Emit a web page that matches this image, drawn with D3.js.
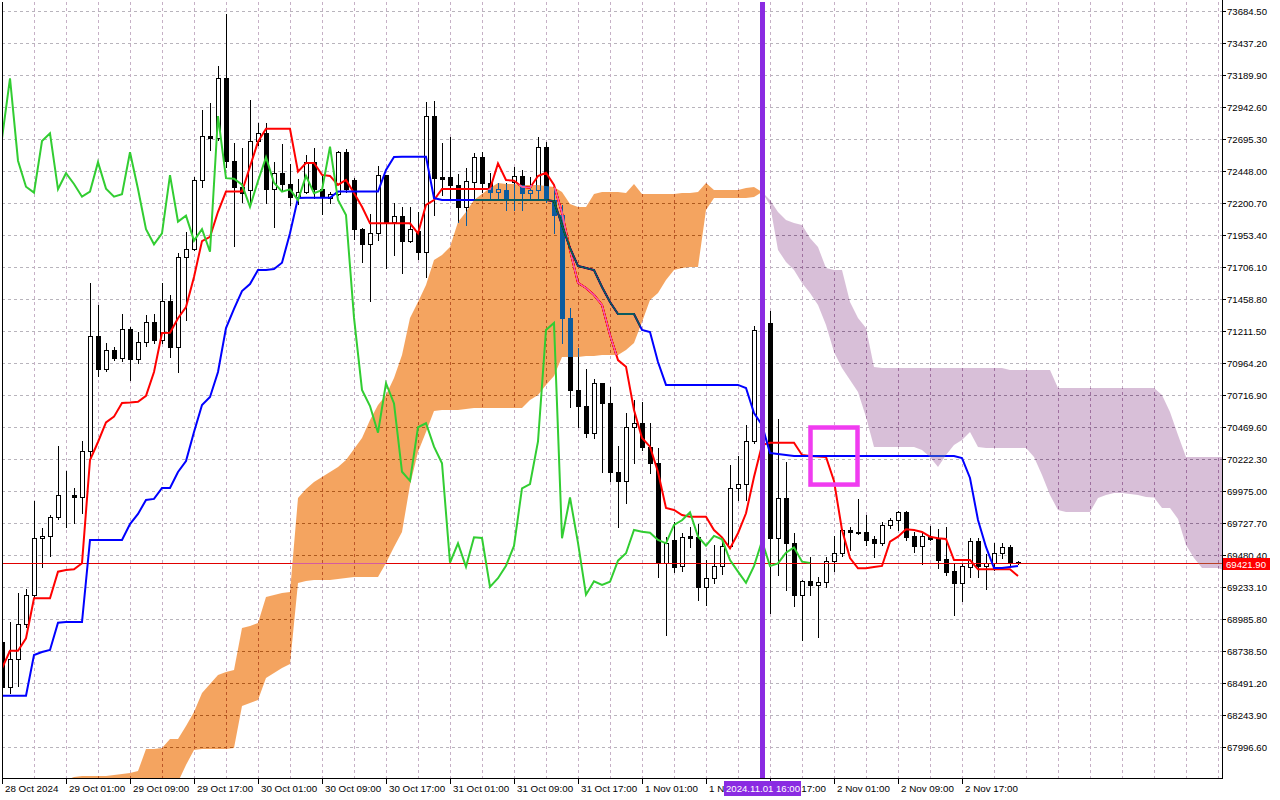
<!DOCTYPE html>
<html><head><meta charset="utf-8">
<script src="https://cdn.jsdelivr.net/npm/d3@7/dist/d3.min.js"></script>
<style>html,body{margin:0;padding:0;background:#fff;overflow:hidden}svg{display:block}</style>
</head><body>
<svg id="chart" width="1280" height="800"></svg>
<script>
// ---------- DATA (BTCUSD H1, 28 Oct 2024 17:00 -> 3 Nov 2024 00:00) ----------
const open = [
68813,68460,68677,68950,69174,69612,69630,69774,69944,69946,
69933,70284,71175,70923,71065,71008,71227,70998,71126,71281,
71144,71446,71093,71786,71848,72381,72721,72703,73167,72530,
72329,72303,72682,72742,72309,72433,72350,72252,72291,72518,
72314,72240,72271,72595,72381,72000,71884,71969,72418,72059,
72105,71912,71987,71826,72875,72403,72403,72345,72174,72367,
72557,72360,72288,72303,72367,72413,72278,72303,72638,72226,
72110,71317,70758,70634,70428,70810,70654,70126,70056,70470,
70501,70320,70192,69423,69599,69398,69630,69622,69236,69303,
69400,69553,69998,70031,70361,71222,71278,69612,69927,69577,
69176,69279,69251,69276,69439,69496,69676,69663,69658,69604,
69573,69715,69751,69813,69630,69555,69620,69604,69452,69361,
69268,69392,69591,69397,69418,69501,69542,69431];
const high = [
68903,68967,69187,69218,69902,69689,69792,70325,70134,69998,
70361,71585,71415,71121,71093,71345,71247,71209,71338,71345,
71582,71492,71813,71981,72406,72922,72974,73262,73664,72664,
72626,72999,72824,72819,72518,72659,72504,72387,72574,72626,
72412,72291,72605,72618,72394,72008,72116,72489,72420,72205,
72170,72175,72136,72986,72994,72664,72711,72426,72471,72588,
72600,72433,72355,72355,72484,72458,72402,72715,72677,72329,
72188,71389,71080,70918,70841,70815,70784,70325,70578,70681,
70667,70501,70307,69624,69740,69651,69701,69722,69444,69559,
69618,70178,70248,70487,71253,71338,71371,70534,70200,69651,
69290,69470,69315,69465,69630,69680,69701,69917,69792,69630,
69735,69769,69825,69825,69664,69651,69707,69683,69698,69418,
69420,69612,69612,69490,69573,69573,69560,69436];
const low = [
68424,68419,68470,68924,69158,69388,69475,69761,69701,69730,
69810,70242,70866,70907,70990,70982,70835,70964,71101,71118,
71118,71015,70899,71299,71840,72329,72613,72690,72484,71873,
72213,72213,72651,72205,72020,72303,72188,72193,72278,72240,
72116,72205,72265,72291,71923,71750,71443,71917,71704,71801,
71660,71904,71767,71634,72110,72265,72226,72059,72033,72226,
72291,72226,72226,72149,72149,72149,72226,72226,72213,71969,
71118,70629,70474,70397,70385,70126,70056,69701,69882,70192,
70294,70115,69315,68865,69354,69361,69547,69135,69096,69267,
69336,69533,69908,69908,70348,71101,69032,69328,69213,69089,
68826,69174,68851,69238,69361,69475,69521,69647,69560,69470,
69560,69692,69676,69599,69508,69412,69597,69380,69328,69019,
69130,69315,69313,69221,69367,69457,69401,69410];
const close = [
68460,68677,68950,69174,69612,69630,69774,69944,69944,69933,
70284,71175,70923,71065,71008,71227,70998,71126,71281,71144,
71446,71093,71786,71848,72381,72721,72703,73167,72530,72329,
72283,72682,72742,72309,72433,72350,72252,72291,72518,72314,
72252,72271,72595,72311,72000,71884,71969,72418,72059,72105,
71912,72000,71826,72875,72395,72391,72345,72174,72373,72557,
72360,72291,72309,72226,72413,72278,72303,72638,72226,72110,
71317,70758,70634,70428,70810,70654,70126,70056,70470,70501,
70320,70192,69423,69573,69392,69620,69614,69236,69303,69400,
69553,69998,70031,70361,71222,71276,69612,69927,69577,69176,
69279,69251,69276,69439,69496,69676,69663,69655,69599,69573,
69715,69751,69813,69625,69555,69630,69604,69444,69354,69268,
69397,69591,69397,69418,69501,69542,69431,69421.9];
// Ichimoku lines
const tenkan = [
68607,68743,68743,68839,69148,69148,69148,69354,69367,69372,
69419,70217,70356,70507,70552,70657,70661,70667,70712,70897,
71198,71201,71312,71399,71631,71909,71942,72135,72291,72291,
72291,72484,72677,72777,72777,72777,72777,72445,72512,72512,
72420,72412,72343,72381,72281,72174,72046,72046,72046,72046,
72046,72046,71969,72188,72226,72311,72311,72311,72311,72311,
72311,72311,72509,72381,72375,72329,72321,72412,72437,72343,
72126,71840,71585,71546,71492,71415,71183,70989,70938,70603,
70387,70320,70124,69846,69831,69792,69779,69779,69779,69676,
69619,69534,69651,69805,70085,70333,70350,70350,70350,70350,
70256,70248,70243,70240,70055,69676,69459,69380,69380,69390,
69398,69586,69624,69681,69676,69661,69624,69612,69607,69444,
69444,69444,69372,69372,69372,69372,69372,69320];
const kijun = [
68395,68395,68395,68395,68710,68733,68749,68960,68965,68965,
68965,69599,69599,69599,69599,69599,69722,69800,69908,69916,
70001,70001,70124,70209,70433,70642,70704,70897,71237,71384,
71523,71577,71685,71685,71693,71741,71970,72241,72244,72244,
72244,72244,72291,72291,72291,72291,72291,72291,72458,72558,
72561,72561,72561,72561,72241,72226,72226,72226,72226,72226,
72226,72226,72226,72226,72226,72226,72226,72226,72226,72218,
72033,71855,71716,71701,71685,71554,71438,71345,71345,71345,
71222,71206,70974,70797,70797,70797,70797,70797,70797,70797,
70797,70797,70797,70773,70580,70487,70271,70263,70255,70248,
70248,70248,70248,70248,70248,70248,70248,70248,70248,70248,
70248,70248,70248,70248,70248,70248,70248,70248,70248,70248,
70232,70078,69753,69545,69382,69382,69390,69398];
// Senkou spans, already displaced 26 bars forward (index = bar position)
const spanA = [
67620,67636,67651,67667,67682,67698,67713,67728,67744,67767,
67775,67775,67775,67775,67783,67790,67798,67813,67983,67983,
67991,68060,68060,68161,68269,68416,68486,68555,68578,68594,
68919,68934,68957,69158,69174,69189,69197,69923,69993,70047,
70085,70124,70163,70217,70302,70387,70526,70642,70719,70851,
71028,71314,71438,71569,71763,71801,71863,72056,72133,72226,
72273,72319,72358,72350,72350,72342,72342,72342,72334,72327,
72288,72195,72172,72172,72273,72288,72288,72288,72280,72350,
72273,72273,72273,72273,72273,72280,72280,72288,72358,72303,
72303,72303,72303,72319,72327,72288,72188,71840,71747,71685,
71585,71508,71415,71260,71051,70928,70835,70742,70549,70317,
70317,70317,70317,70317,70317,70294,70240,70163,70256,70333,
70371,70433,70317,70309,70309,70309,70309,70309,70309,70240,
70101,69946,69830,69815,69815,69815,69815,69923,69946,69962,
69962,69954,69946,69930,69927,69846,69846,69761,69560,69460,
69382,69382,69382,69359];
const spanB = [
67551,67551,67551,67551,67551,67551,67551,67551,67551,67551,
67551,67551,67551,67551,67551,67551,67551,67551,67551,67551,
67551,67551,67728,67860,67976,67983,67983,67983,67983,67991,
68316,68339,68362,68532,68571,68609,68640,69266,69282,69289,
69289,69289,69297,69305,69313,69313,69313,69313,69421,69544,
69660,70023,70279,70433,70596,70603,70603,70603,70611,70619,
70619,70619,70619,70619,70619,70619,70681,70719,70797,70866,
71013,71013,71013,71020,71020,71028,71028,71028,71067,71121,
71283,71453,71508,71608,71685,71701,71708,71708,72149,72242,
72242,72242,72242,72242,72249,72288,72226,72133,72072,72048,
72033,71932,71863,71701,71685,71685,71438,71314,71237,70936,
70928,70928,70928,70928,70928,70928,70928,70928,70928,70928,
70928,70928,70928,70928,70928,70928,70912,70912,70912,70912,
70912,70912,70773,70773,70773,70773,70773,70773,70773,70773,
70773,70773,70773,70773,70773,70719,70588,70410,70240,70240,
70240,70240,70240,70240];
const chikouShift = 26;
const priceTicks = [73684.5,73437.2,73189.9,72942.6,72695.3,72448.0,72200.7,71953.4,71706.1,71458.8,
  71211.5,70964.2,70716.9,70469.6,70222.3,69975.0,69727.7,69480.4,69233.1,68985.8,68738.5,68491.2,68243.9,67996.6];
const timeTickBars = [0,8,16,24,32,40,48,56,64,72,80,88,96,104,112,120];
const timeTickLabels = ["28 Oct 2024","29 Oct 01:00","29 Oct 09:00","29 Oct 17:00","30 Oct 01:00","30 Oct 09:00",
  "30 Oct 17:00","31 Oct 01:00","31 Oct 09:00","31 Oct 17:00","1 Nov 01:00","1 Nov 09:00","1 Nov 17:00",
  "2 Nov 01:00","2 Nov 09:00","2 Nov 17:00"];
const lastPrice = 69421.9;
const markerBar = 95, markerLabel = "2024.11.01 16:00";
const boxBars = [101, 107], boxPrices = [70468, 70027];

// ---------- CHART ----------
const svg = d3.select("#chart");
const FONT = "'Liberation Sans', Arial, sans-serif";
const x = d3.scaleLinear().domain([0, 152.5]).range([2, 1222]);
const y = d3.scaleLinear().domain([67749.3, 73771.8]).range([779.3, 0]);
const X = i => Math.round(x(i));

svg.append("rect").attr("width",1280).attr("height",800).attr("fill","#fff");
const defs = svg.append("defs");
defs.append("clipPath").attr("id","plot").append("rect")
  .attr("x",2).attr("y",2).attr("width",1220).attr("height",777);

const g = svg.append("g").attr("clip-path","url(#plot)");
g.append("rect").attr("x",0).attr("y",0).attr("width",1280).attr("height",800).attr("fill","#fff");

// grid
const grid = g.append("g").attr("shape-rendering","crispEdges");
priceTicks.forEach(t => {
  const yy = Math.round(y(t)) + 0.5;
  grid.append("line").attr("x1",2).attr("x2",1222).attr("y1",yy).attr("y2",yy)
    .attr("stroke","#b8b4bc").attr("stroke-dasharray","3,3");
});
d3.range(0, 153, 4).forEach(i => {
  const xx = X(i) + 0.5;
  grid.append("line").attr("x1",xx).attr("x2",xx).attr("y1",2).attr("y2",779)
    .attr("stroke","#c6b0c6").attr("stroke-dasharray","3,3");
});

// candles
const candles = g.append("g").attr("shape-rendering","crispEdges");
open.forEach((o, i) => {
  const c = close[i], cx = X(i);
  candles.append("line").attr("x1",cx+0.5).attr("x2",cx+0.5)
    .attr("y1",Math.round(y(high[i]))).attr("y2",Math.round(y(low[i]))+1)
    .attr("stroke","#000");
  const t = Math.round(y(Math.max(o,c))), b = Math.round(y(Math.min(o,c)));
  candles.append("rect").attr("x",cx-1.5).attr("y",t+0.5).attr("width",4).attr("height",Math.max(0,b-t))
    .attr("fill", c >= o ? "#fff" : "#000").attr("stroke","#000");
});

// last price line
g.append("line").attr("x1",2).attr("x2",1222)
  .attr("y1",Math.round(y(lastPrice))+0.5).attr("y2",Math.round(y(lastPrice))+0.5)
  .attr("stroke","#e00000").attr("stroke-width",1).attr("shape-rendering","crispEdges");

// tenkan & kijun
const line = d3.line().x((d,i)=>x(i)).y(d=>y(d));
g.append("path").attr("d",line(tenkan)).attr("fill","none").attr("stroke","#ff0000").attr("stroke-width",2);
g.append("path").attr("d",line(kijun)).attr("fill","none").attr("stroke","#0000ff").attr("stroke-width",2);

// cloud (xor-like difference blending as in the terminal)
const area = d3.area().x(j=>x(j)).y0(j=>y(spanA[j])).y1(j=>y(spanB[j]));
const split = 95;
g.append("path").attr("d", area(d3.range(0, split+1)))
  .attr("fill","rgb(11,91,159)").style("mix-blend-mode","difference");
g.append("path").attr("d", area(d3.range(split, spanA.length)))
  .attr("fill","rgb(39,64,39)").style("mix-blend-mode","difference");

// chikou span: closes plotted 26 bars back
const chik = close.slice(chikouShift);
g.append("path").attr("d", d3.line().x((d,i)=>x(i)).y(d=>y(d))(chik))
  .attr("fill","none").attr("stroke","#32cd32").attr("stroke-width",2);

// vertical marker
g.append("line").attr("x1",X(markerBar)+0.5).attr("x2",X(markerBar)+0.5).attr("y1",2).attr("y2",779)
  .attr("stroke","#8a2be2").attr("stroke-width",5);

// annotation box
g.append("rect").attr("x",X(boxBars[0])+0.5).attr("y",y(boxPrices[0]))
  .attr("width",X(boxBars[1])-X(boxBars[0])-1).attr("height",y(boxPrices[1])-y(boxPrices[0]))
  .attr("fill","none").attr("stroke","#f03cf0").attr("stroke-width",4.5);

// frame
const frame = svg.append("g").attr("shape-rendering","crispEdges");
frame.append("line").attr("x1",2.5).attr("x2",2.5).attr("y1",2).attr("y2",779).attr("stroke","#000");
frame.append("line").attr("x1",1222.5).attr("x2",1222.5).attr("y1",0).attr("y2",779).attr("stroke","#000");
frame.append("line").attr("x1",2).attr("x2",1223).attr("y1",778.5).attr("y2",778.5).attr("stroke","#000");

// price axis
const pa = svg.append("g");
priceTicks.forEach(t => {
  const yy = Math.round(y(t)) + 0.5;
  pa.append("line").attr("x1",1222).attr("x2",1226).attr("y1",yy).attr("y2",yy)
    .attr("stroke","#000").attr("shape-rendering","crispEdges");
  pa.append("text").attr("x",1227).attr("y",yy+3.5).text(d3.format(".2f")(t))
    .attr("font-family",FONT).attr("font-size","9.6px").attr("fill","#000");
});
// last price label
const ly = Math.round(y(lastPrice));
pa.append("rect").attr("x",1223).attr("y",ly-5).attr("width",47).attr("height",12).attr("fill","#ff0000");
pa.append("text").attr("x",1226).attr("y",ly+4.5).text(d3.format(".2f")(lastPrice))
  .attr("font-family",FONT).attr("font-size","9.6px").attr("fill","#fff");

// time axis
const ta = svg.append("g");
timeTickBars.forEach((b, k) => {
  const xx = X(b) + 0.5;
  ta.append("line").attr("x1",xx).attr("x2",xx).attr("y1",779).attr("y2",784)
    .attr("stroke","#000").attr("shape-rendering","crispEdges");
  ta.append("text").attr("x",X(b)+3).attr("y",792).text(timeTickLabels[k])
    .attr("font-family",FONT).attr("font-size","9.8px").attr("fill","#000");
});
// marker time label
const mx = X(markerBar);
ta.append("rect").attr("x",mx-38).attr("y",781).attr("width",77).attr("height",15).attr("fill","#8a2be2");
ta.append("text").attr("x",mx+1).attr("y",792).attr("text-anchor","middle").text(markerLabel)
  .attr("font-family",FONT).attr("font-size","9.6px").attr("fill","#fff");
</script>
</body></html>
